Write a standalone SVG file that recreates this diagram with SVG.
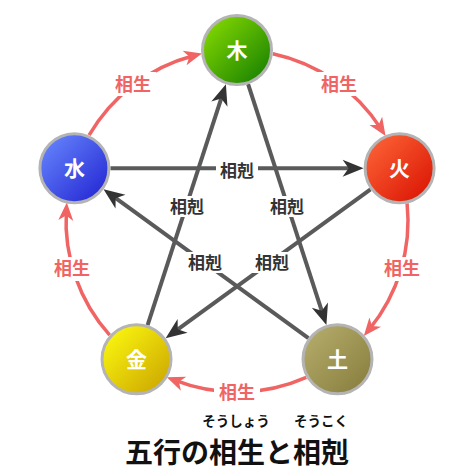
<svg xmlns="http://www.w3.org/2000/svg" width="474" height="474" viewBox="0 0 474 474">
<defs>
<linearGradient id="gWood" x1="0" y1="0" x2="1" y2="1"><stop offset="0" stop-color="#8ee000"/><stop offset="1" stop-color="#0f7a00"/></linearGradient>
<linearGradient id="gFire" x1="0" y1="0" x2="1" y2="1"><stop offset="0" stop-color="#ff6a3a"/><stop offset="1" stop-color="#d80e00"/></linearGradient>
<linearGradient id="gEarth" x1="0" y1="0" x2="1" y2="1"><stop offset="0" stop-color="#b8b070"/><stop offset="1" stop-color="#857a3a"/></linearGradient>
<linearGradient id="gMetal" x1="0" y1="0" x2="1" y2="1"><stop offset="0" stop-color="#ffff10"/><stop offset="1" stop-color="#c8a000"/></linearGradient>
<linearGradient id="gWater" x1="0" y1="0" x2="1" y2="1"><stop offset="0" stop-color="#6a8cff"/><stop offset="1" stop-color="#1f1fd0"/></linearGradient>
<marker id="ah-red" markerUnits="userSpaceOnUse" markerWidth="40" markerHeight="40" viewBox="-20 -20 40 40" refX="0" refY="0" orient="auto" overflow="visible">
<path d="M9,0 L-9,-7.5 L-4,0 L-9,7.5 Z" fill="#f06464"/>
</marker>
<marker id="ah-dark" markerUnits="userSpaceOnUse" markerWidth="40" markerHeight="40" viewBox="-20 -20 40 40" refX="0" refY="0" orient="auto" overflow="visible">
<path d="M10,0 L-11,-8.5 L-5,0 L-11,8.5 Z" fill="#333333"/>
</marker>
</defs>
<style>
.gen{fill:none;stroke:#f06464;stroke-width:3.5;marker-end:url(#ah-red)}
.ovr{fill:none;stroke:#5a5a5a;stroke-width:4;marker-end:url(#ah-dark)}
.lblbg{fill:#ffffff}
.lg{font-family:"Noto Sans CJK JP",sans-serif;font-weight:bold;font-size:18px;fill:#f06464;text-anchor:middle}
.lk{font-family:"Noto Sans CJK JP",sans-serif;font-weight:bold;font-size:17px;fill:#333333;text-anchor:middle}
.node circle{stroke:#b4b4b4;stroke-width:3}
.node text{font-family:"Noto Sans CJK JP",sans-serif;font-weight:bold;font-size:21px;fill:#ffffff;text-anchor:middle}
.title{font-family:"Noto Sans CJK JP",sans-serif;font-weight:bold;font-size:28px;fill:#111111;text-anchor:middle}
.ruby{font-family:"Noto Sans CJK JP",sans-serif;font-weight:bold;font-size:13.5px;fill:#111111;text-anchor:middle}
</style>

<g id="connectors">
<path class="gen" d="M89.1,135.2 A171,171 0 0 1 193.3,55.7"/>
<path class="gen" d="M272.8,53.8 A171,171 0 0 1 380.7,128.4"/>
<path class="gen" d="M407.1,203.4 A171,171 0 0 1 369.5,329.1"/>
<path class="gen" d="M306.3,377.3 A171,171 0 0 1 175.2,380.4"/>
<path class="gen" d="M109.7,335.2 A171,171 0 0 1 66.3,211.5"/>
<line class="ovr" x1="110.4" y1="168.2" x2="353.6" y2="168.2"/>
<line class="ovr" x1="248.1" y1="84.2" x2="323.3" y2="315.6"/>
<line class="ovr" x1="308.4" y1="338.1" x2="111.6" y2="195.2"/>
<line class="ovr" x1="370.5" y1="189.4" x2="173.7" y2="332.3"/>
<line class="ovr" x1="147.6" y1="325.1" x2="222.8" y2="93.7"/>
<g id="labels-sousei">
<rect class="lblbg" x="110" y="72" width="46" height="24"/>
<text class="lg" x="133" y="91">相生</text>
<rect class="lblbg" x="316" y="72" width="46" height="24"/>
<text class="lg" x="339" y="91">相生</text>
<rect class="lblbg" x="379" y="257" width="46" height="24"/>
<text class="lg" x="402" y="275">相生</text>
<rect class="lblbg" x="49" y="257" width="46" height="24"/>
<text class="lg" x="72" y="275">相生</text>
<rect class="lblbg" x="214" y="381" width="46" height="24"/>
<text class="lg" x="237" y="399">相生</text>
</g>
<g id="labels-soukoku">
<rect class="lblbg" x="216" y="161" width="42" height="20"/>
<text class="lk" x="237" y="177">相剋</text>
<rect class="lblbg" x="167" y="196" width="41" height="21"/>
<text class="lk" x="187" y="213">相剋</text>
<rect class="lblbg" x="267" y="196" width="41" height="21"/>
<text class="lk" x="287" y="213">相剋</text>
<rect class="lblbg" x="185" y="252" width="41" height="21"/>
<text class="lk" x="205" y="269">相剋</text>
<rect class="lblbg" x="252" y="252" width="41" height="21"/>
<text class="lk" x="272" y="269">相剋</text>
</g>
</g>

<g id="node-wood" class="node">
<circle cx="237" cy="50" r="34.5" fill="url(#gWood)"/>
<text x="237" y="58">木</text>
</g>
<g id="node-fire" class="node">
<circle cx="399.6" cy="168.2" r="34.5" fill="url(#gFire)"/>
<text x="399.6" y="176">火</text>
</g>
<g id="node-earth" class="node">
<circle cx="337.5" cy="359.3" r="34.5" fill="url(#gEarth)"/>
<text x="337.5" y="367">土</text>
</g>
<g id="node-metal" class="node">
<circle cx="136.5" cy="359.3" r="34.5" fill="url(#gMetal)"/>
<text x="136.5" y="367">金</text>
</g>
<g id="node-water" class="node">
<circle cx="74.4" cy="168.2" r="34.5" fill="url(#gWater)"/>
<text x="74.4" y="176">水</text>
</g>

<g id="title">
<text class="ruby" x="236" y="426">そうしょう</text>
<text class="ruby" x="321" y="426">そうこく</text>
<text class="title" x="237" y="463">五行の相生と相剋</text>
</g>
</svg>
